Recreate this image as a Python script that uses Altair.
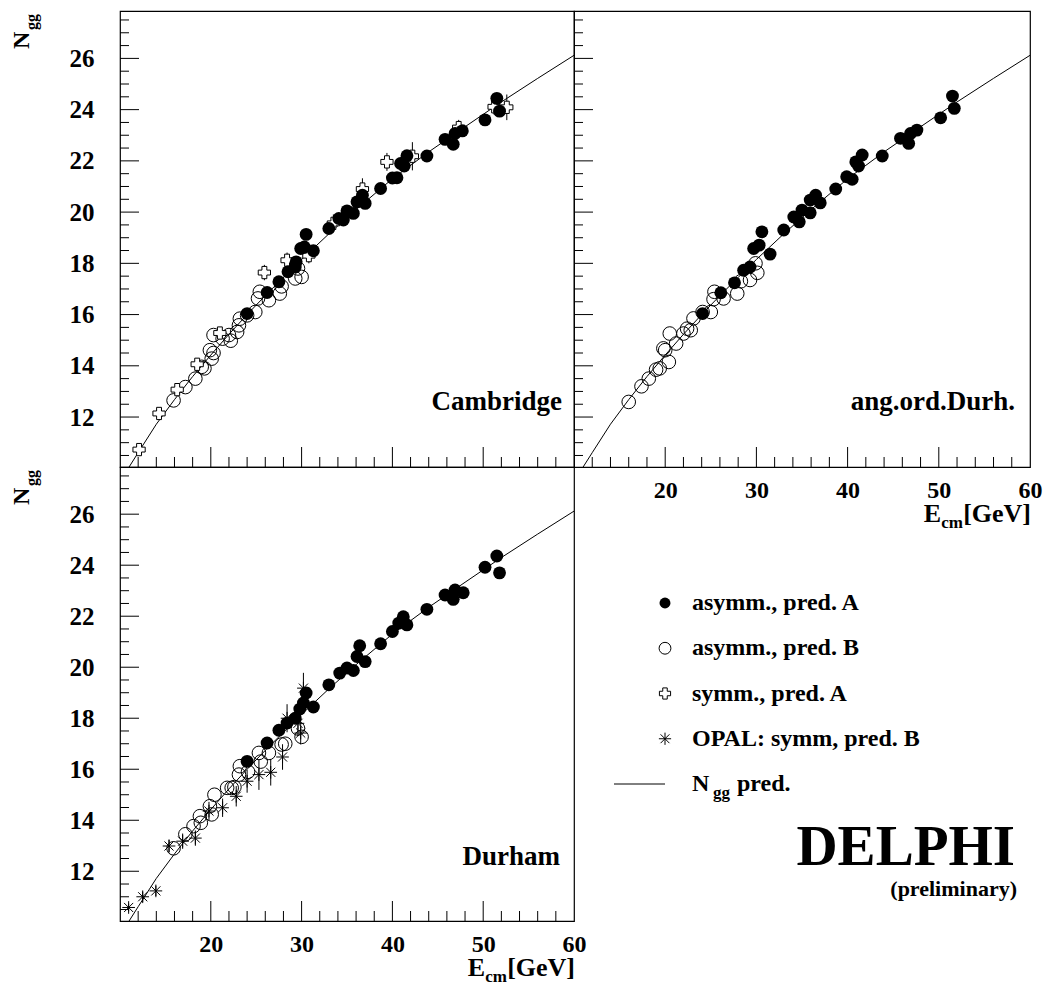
import altair as alt
import pandas as pd

FONT = "Liberation Serif"

# ---------------- axes ----------------
X_DOMAIN = [10, 60]
Y_DOMAIN = [10.05, 27.85]
X_LABELS = [20, 30, 40, 50, 60]
X_MAJOR = [20, 30, 40, 50]
X_MINOR = [12, 14, 16, 18, 22, 24, 26, 28, 32, 34, 36, 38, 42, 44, 46, 48, 52, 54, 56, 58]
Y_MAJOR = [12, 14, 16, 18, 20, 22, 24, 26]
Y_MINOR = [10.5, 11, 11.5, 12.5, 13, 13.5, 14.5, 15, 15.5, 16.5, 17, 17.5, 18.5, 19, 19.5,
           20.5, 21, 21.5, 22.5, 23, 23.5, 24.5, 25, 25.5, 26.5, 27, 27.5]

# ---------------- N_gg prediction curve ----------------
CURVE_E = [11, 12, 14, 16, 18, 20, 22, 24, 26, 28, 30, 33, 36, 40, 44, 48, 52, 56, 60]
CURVE_N = [10.05, 10.61, 11.72, 12.68, 13.58, 14.42, 15.23, 16.0, 16.74, 17.45, 18.15,
           19.15, 20.1, 21.3, 22.35, 23.33, 24.3, 25.22, 26.12]

# ---------------- Cambridge ----------------
CAM_FILLED_E = [51.5, 51.8, 50.2, 45.8, 46.7, 46.9, 47.7, 43.8, 41.6, 40.9, 41.3, 40.0, 40.5,
                38.7, 36.7, 36.1, 37.0, 35.7, 35.0, 34.6, 34.1, 33.0, 30.5, 31.3, 29.9, 30.3,
                29.4, 29.3, 28.5, 27.5, 26.2, 24.0]
CAM_FILLED_N = [24.44, 23.94, 23.6, 22.84, 22.65, 23.07, 23.17, 22.19, 22.2, 21.9, 21.8, 21.33,
                21.34, 20.92, 20.66, 20.4, 20.34, 19.95, 20.05, 19.69, 19.75, 19.36, 19.13,
                18.49, 18.58, 18.64, 18.06, 17.86, 17.67, 17.28, 16.86, 16.04]
CAM_OPEN_E = [15.9, 17.2, 18.3, 19.0, 19.3, 20.1, 19.9, 20.3, 20.3, 21.3, 22.0, 22.2, 22.9,
              23.1, 23.2, 24.0, 24.9, 25.4, 25.2, 26.4, 27.6, 27.8, 29.3, 30.0, 29.6]
CAM_OPEN_N = [12.65, 13.17, 13.5, 13.96, 13.9, 14.28, 14.61, 14.5, 15.2, 15.06, 15.2, 14.98,
              15.32, 15.58, 15.84, 15.97, 16.1, 16.89, 16.63, 16.56, 16.82, 17.1, 17.41, 17.47,
              17.8]
CAM_CROSS_E = [12.1, 14.3, 16.3, 18.5, 21.0, 25.9, 28.4, 30.8, 33.5, 36.7, 39.4, 42.2, 47.3,
               51.2, 52.6]
CAM_CROSS_N = [10.73, 12.14, 13.07, 14.06, 15.28, 17.64, 18.12, 18.3, 19.56, 20.9, 21.96,
               22.18, 23.3, 24.11, 24.09]
CAM_CROSS_ERR = [0.15, 0.15, 0.15, 0.2, 0.2, 0.3, 0.3, 0.3, 0.35, 0.42, 0.35, 0.55, 0.3, 0.3,
                 0.5]

# ---------------- ang.ord.Durh. ----------------
AOD_FILLED_E = [51.5, 51.7, 50.2, 45.8, 46.7, 46.9, 47.6, 43.8, 41.6, 40.9, 41.2, 39.9, 40.5,
                38.7, 36.5, 35.9, 37.0, 35.9, 35.0, 34.7, 34.1, 33.0, 30.6, 31.5, 29.7, 30.3,
                29.3, 28.6, 27.6, 26.1, 24.1]
AOD_FILLED_N = [24.53, 24.05, 23.68, 22.88, 22.68, 23.07, 23.2, 22.19, 22.23, 21.96, 21.8,
                21.38, 21.28, 20.9, 20.66, 20.47, 20.36, 19.97, 20.08, 19.62, 19.81, 19.3,
                19.23, 18.36, 18.58, 18.71, 17.86, 17.73, 17.24, 16.85, 16.04]
AOD_OPEN_E = [16.0, 17.4, 18.2, 19.0, 19.4, 20.4, 20.0, 19.8, 20.5, 21.2, 22.0, 22.8, 22.4,
              23.1, 24.1, 25.0, 25.4, 25.3, 26.4, 27.9, 28.3, 29.3, 30.1, 29.9]
AOD_OPEN_N = [12.59, 13.2, 13.5, 13.85, 13.9, 14.15, 14.61, 14.68, 15.26, 14.87, 15.26, 15.39,
              15.45, 15.85, 16.1, 16.1, 16.89, 16.6, 16.63, 16.82, 17.3, 17.35, 17.63, 18.0]

# ---------------- Durham ----------------
DUR_FILLED_E = [51.5, 51.8, 50.2, 45.8, 46.7, 46.9, 47.8, 43.8, 41.2, 41.6, 40.7, 40.0, 38.7,
                36.4, 36.1, 37.0, 35.7, 35.0, 34.2, 33.0, 30.5, 31.3, 29.8, 30.2, 29.3, 28.4,
                27.5, 26.2, 24.0]
DUR_FILLED_N = [24.36, 23.7, 23.92, 22.83, 22.66, 23.03, 22.92, 22.27, 21.98, 21.66, 21.73,
                21.4, 20.92, 20.84, 20.42, 20.22, 19.87, 19.97, 19.77, 19.31, 18.99, 18.44,
                18.36, 18.6, 18.0, 17.81, 17.53, 17.03, 16.31]
DUR_OPEN_E = [15.9, 17.2, 18.1, 18.9, 18.8, 20.1, 19.9, 20.4, 21.8, 22.3, 22.6, 23.1, 23.2,
              24.1, 25.3, 25.5, 26.4, 27.8, 28.2, 30.0, 29.6]
DUR_OPEN_N = [12.9, 13.45, 13.77, 13.9, 14.16, 14.23, 14.55, 15.0, 15.27, 15.27, 15.3, 15.79,
              16.12, 15.9, 16.64, 16.3, 16.64, 16.97, 17.0, 17.27, 17.6]
DUR_STAR_E = [10.95, 12.5, 13.95, 15.4, 16.9, 18.3, 19.8, 21.3, 22.8, 24.0, 25.3, 26.6, 27.9,
              29.9, 28.4, 30.2, 29.6]
DUR_STAR_N = [10.58, 11.0, 11.23, 12.99, 13.18, 13.3, 14.36, 14.49, 14.94, 15.53, 15.79, 15.88,
              16.48, 17.42, 18.0, 19.18, 17.8]
DUR_STAR_ERR = [0.15, 0.2, 0.2, 0.25, 0.3, 0.3, 0.36, 0.36, 0.4, 0.45, 0.6, 0.52, 0.5, 0.45,
                0.55, 0.6, 0.5]

# ---------------- legend ----------------
LEGEND_KEYS = ["asymm., pred. A", "asymm., pred. B", "symm., pred. A",
               "OPAL: symm, pred. B", "Ngg pred."]

STAR_PATH = "M-1,0L1,0M0,-1L0,1M-0.72,-0.72L0.72,0.72M-0.72,0.72L0.72,-0.72"


def text_layer(txt, x, y, size, align="left", baseline="alphabetic", angle=None, dy=None):
    mk = dict(font=FONT, fontWeight="bold", fontSize=size, align=align,
              baseline=baseline, color="black")
    if angle is not None:
        mk["angle"] = angle
    if dy is not None:
        mk["dy"] = dy
    return alt.Chart(pd.DataFrame({"t": [txt]})).mark_text(**mk).encode(
        text="t:N", x=alt.value(x), y=alt.value(y))


def make_panel(W, H, filled, opened, crosses=None, stars=None, name="", name_dx=12,
               name_y=399, y_labels=False, x_labels=False):
    xs = alt.Scale(domain=X_DOMAIN, nice=False, zero=False)
    ys = alt.Scale(domain=Y_DOMAIN, nice=False, zero=False)
    if x_labels:
        xaxis = alt.Axis(values=X_LABELS, ticks=False, tickSize=0, domain=False, grid=False,
                         labelFont=FONT, labelFontWeight="bold", labelFontSize=24,
                         labelColor="black", labelPadding=11, labelFlush=False,
                         labelOverlap=False, title=None)
    else:
        xaxis = None
    if y_labels:
        yaxis = alt.Axis(values=Y_MAJOR, ticks=False, tickSize=0, domain=False, grid=False,
                         labelFont=FONT, labelFontWeight="bold", labelFontSize=25,
                         labelColor="black", labelPadding=26, labelFlush=False,
                         labelOverlap=False, title=None)
    else:
        yaxis = None

    def X(f):
        return alt.X(f"{f}:Q", scale=xs, axis=xaxis)

    def Y(f):
        return alt.Y(f"{f}:Q", scale=ys, axis=yaxis)

    layers = []
    curve = pd.DataFrame({"E": CURVE_E, "N": CURVE_N})
    layers.append(alt.Chart(curve).mark_line(color="black", strokeWidth=1, clip=True)
                  .encode(x=X("E"), y=Y("N")))

    odf = pd.DataFrame({"E": opened[0], "N": opened[1]})
    layers.append(alt.Chart(odf).mark_point(shape="circle", filled=False, color="black",
                                            size=185, strokeWidth=1, opacity=1)
                  .encode(x=X("E"), y=Y("N")))

    if stars is not None:
        sdf = pd.DataFrame({"E": stars[0], "N": stars[1], "err": stars[2]})
        layers.append(alt.Chart(sdf)
                      .transform_calculate(lo="datum.N - datum.err", hi="datum.N + datum.err")
                      .mark_rule(color="black", strokeWidth=1)
                      .encode(x=X("E"), y=Y("lo"), y2="hi:Q"))
        layers.append(alt.Chart(sdf).mark_point(shape=STAR_PATH, filled=False, color="black",
                                                size=160, strokeWidth=1, opacity=1)
                      .encode(x=X("E"), y=Y("N")))

    if crosses is not None:
        cdf = pd.DataFrame({"E": crosses[0], "N": crosses[1], "err": crosses[2]})
        layers.append(alt.Chart(cdf)
                      .transform_calculate(lo="datum.N - datum.err", hi="datum.N + datum.err")
                      .mark_rule(color="black", strokeWidth=1)
                      .encode(x=X("E"), y=Y("lo"), y2="hi:Q"))
        layers.append(alt.Chart(cdf).mark_point(shape="cross", filled=True, fill="white",
                                                stroke="black", strokeWidth=1, size=150,
                                                opacity=1)
                      .encode(x=X("E"), y=Y("N")))

    fdf = pd.DataFrame({"E": filled[0], "N": filled[1]})
    layers.append(alt.Chart(fdf).mark_point(shape="circle", filled=True, color="black",
                                            size=165, opacity=1)
                  .encode(x=X("E"), y=Y("N")))

    # inward ticks
    layers.append(alt.Chart(pd.DataFrame({"t": Y_MAJOR})).mark_rule(color="black", strokeWidth=1)
                  .encode(y=Y("t"), x=alt.value(0), x2=alt.value(19)))
    layers.append(alt.Chart(pd.DataFrame({"t": Y_MINOR})).mark_rule(color="black", strokeWidth=1)
                  .encode(y=Y("t"), x=alt.value(0), x2=alt.value(9)))
    layers.append(alt.Chart(pd.DataFrame({"t": X_MAJOR})).mark_rule(color="black", strokeWidth=1)
                  .encode(x=X("t"), y=alt.value(H), y2=alt.value(H - 20)))
    layers.append(alt.Chart(pd.DataFrame({"t": X_MINOR})).mark_rule(color="black", strokeWidth=1)
                  .encode(x=X("t"), y=alt.value(H), y2=alt.value(H - 10)))

    layers.append(text_layer(name, W - name_dx, name_y, 27, align="right"))

    if y_labels:
        layers.append(text_layer("N", -91, 38, 24, angle=270))
        layers.append(text_layer("gg", -83, 19, 16, angle=270))
    if x_labels:
        layers.append(text_layer("[GeV]", W + 1, H + 55, 26, align="right"))
        layers.append(text_layer("cm", W - 67, H + 61, 17, align="right"))
        layers.append(text_layer("E", W - 89, H + 55, 26, align="right"))

    return alt.layer(*layers).properties(width=W, height=H)


def legend_panel(W, H):
    ys = alt.Scale(type="point", domain=LEGEND_KEYS, range=[136, 317], padding=0)

    def Y():
        return alt.Y("item:N", scale=ys, axis=None)

    def one(k):
        return pd.DataFrame({"item": [LEGEND_KEYS[k]]})

    sx = 91
    layers = [
        alt.Chart(one(0)).mark_point(shape="circle", filled=True, color="black", size=120,
                                     opacity=1).encode(x=alt.value(sx), y=Y()),
        alt.Chart(one(1)).mark_point(shape="circle", filled=False, color="black", size=140,
                                     strokeWidth=1, opacity=1).encode(x=alt.value(sx), y=Y()),
        alt.Chart(one(2)).mark_point(shape="cross", filled=True, fill="white", stroke="black",
                                     strokeWidth=1, size=125, opacity=1)
        .encode(x=alt.value(sx), y=Y()),
        alt.Chart(one(3)).mark_point(shape=STAR_PATH, filled=False, color="black", size=150,
                                     strokeWidth=1, opacity=1).encode(x=alt.value(sx), y=Y()),
        alt.Chart(one(4)).mark_rule(color="black", strokeWidth=1)
        .encode(x=alt.value(40), x2=alt.value(sx), y=Y()),
    ]
    tx = 118
    for k in range(4):
        layers.append(alt.Chart(one(k)).mark_text(font=FONT, fontWeight="bold", fontSize=24,
                                                  align="left", baseline="middle",
                                                  color="black")
                      .encode(text="item:N", x=alt.value(tx), y=Y()))
    layers.append(alt.Chart(one(4)).mark_text(font=FONT, fontWeight="bold", fontSize=24,
                                              align="left", baseline="middle", color="black",
                                              text="N")
                  .encode(x=alt.value(tx), y=Y()))
    layers.append(alt.Chart(one(4)).mark_text(font=FONT, fontWeight="bold", fontSize=17,
                                              align="left", baseline="middle", color="black",
                                              text="gg", dy=9)
                  .encode(x=alt.value(tx + 21), y=Y()))
    layers.append(alt.Chart(one(4)).mark_text(font=FONT, fontWeight="bold", fontSize=24,
                                              align="left", baseline="middle", color="black",
                                              text="pred.")
                  .encode(x=alt.value(tx + 45), y=Y()))
    layers.append(text_layer("DELPHI", 441, 398, 57, align="right"))
    layers.append(text_layer("(preliminary)", 443, 429, 22, align="right"))
    return alt.layer(*layers).properties(width=W, height=H,
                                         view=alt.ViewBackground(stroke="transparent"))


A = make_panel(454, 456, (CAM_FILLED_E, CAM_FILLED_N), (CAM_OPEN_E, CAM_OPEN_N),
               crosses=(CAM_CROSS_E, CAM_CROSS_N, CAM_CROSS_ERR), name="Cambridge",
               name_dx=12, name_y=399, y_labels=True)
B = make_panel(456, 456, (AOD_FILLED_E, AOD_FILLED_N), (AOD_OPEN_E, AOD_OPEN_N),
               name="ang.ord.Durh.", name_dx=15, name_y=399, x_labels=True)
C = make_panel(454, 454, (DUR_FILLED_E, DUR_FILLED_N), (DUR_OPEN_E, DUR_OPEN_N),
               stars=(DUR_STAR_E, DUR_STAR_N, DUR_STAR_ERR), name="Durham",
               name_dx=14, name_y=398, y_labels=True, x_labels=True)
L = legend_panel(456, 454)

chart = alt.concat(A, B, C, L, columns=2, spacing=0, bounds="flush").properties(
    padding={"left": 1, "top": 2, "right": 0, "bottom": 0}
).configure_view(stroke="black", strokeWidth=1.2)

chart.save("out.html", embed_options={"renderer": "svg", "actions": False})
